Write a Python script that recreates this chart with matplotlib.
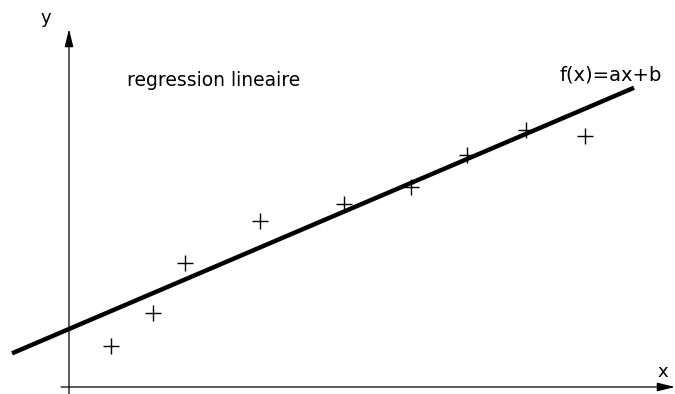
import matplotlib.pyplot as plt

# Measured points
x_pts = [4.2, 8.4, 11.6, 19.1, 27.5, 34.2, 39.8, 45.7, 51.6]
y_pts = [4.1, 7.4, 12.4, 16.6, 18.3, 20.0, 23.2, 25.7, 25.1]

# Fitted line f(x) = a*x + b
a, b = 0.427, 5.8
line_x = [-5.7, 56.5]

fig = plt.figure(figsize=(6.75, 3.94), dpi=100)
ax = fig.add_axes([0, 0, 1, 1])
ax.set_xlim(-6.9, 60.6)
ax.set_ylim(-0.7, 38.7)
ax.axis('off')

# Axes with arrowheads
arrow = dict(arrowstyle='-|>,head_length=0.9,head_width=0.22', color='black',
             lw=0.9, mutation_scale=12, shrinkA=0, shrinkB=0)
ax.annotate('', xy=(60.6, 0), xytext=(-0.8, 0), arrowprops=arrow)
ax.annotate('', xy=(0, 35.8), xytext=(0, -0.7), arrowprops=arrow)

ax.text(-2.3, 36.9, 'y', fontsize=13, ha='center', va='center')
ax.text(59.4, 1.5, 'x', fontsize=13, ha='center', va='center')

# Regression line
ax.plot(line_x, [a * v + b for v in line_x], color='black', lw=3.2,
        solid_capstyle='butt')

# Data points
ax.plot(x_pts, y_pts, linestyle='none', marker='+', markersize=12,
        markeredgewidth=1.0, color='black')

ax.text(5.8, 30.7, 'regression lineaire', fontsize=13.5, ha='left', va='center')
ax.text(49.1, 31.2, 'f(x)=ax+b', fontsize=14, ha='left', va='center')

fig.savefig('out.png', dpi=100)
